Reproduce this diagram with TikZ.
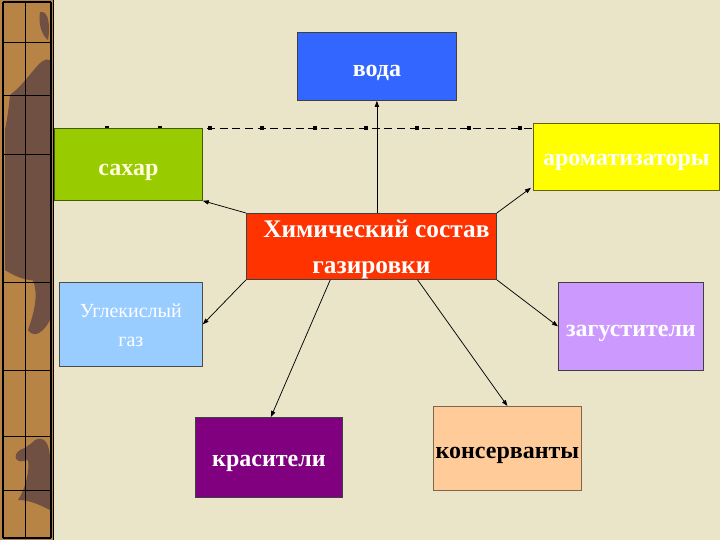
\documentclass[tikz,border=0pt]{standalone}
\usepackage{fontspec}
\setmainfont{Liberation Serif}
\usetikzlibrary{arrows.meta,calc}
\definecolor{bg}{RGB}{234,228,201}
\definecolor{stripbrown}{RGB}{184,132,70}
\definecolor{stripdark}{RGB}{112,80,66}
\definecolor{cvoda}{RGB}{51,102,255}
\definecolor{csahar}{RGB}{153,204,0}
\definecolor{caroma}{RGB}{255,255,0}
\definecolor{ccenter}{RGB}{255,51,0}
\definecolor{cgas}{RGB}{153,204,255}
\definecolor{czag}{RGB}{204,153,255}
\definecolor{ckras}{RGB}{128,0,128}
\definecolor{ckons}{RGB}{255,204,153}
% text lowered so that its baseline sits #1 below the box centre
\newcommand\lowtxt[2]{\raisebox{-#1}[0pt][0pt]{#2}}
\newcommand\lowtab[2]{\raisebox{-#1}[0pt][0pt]{\begin{tabular}[t]{@{}c@{}}#2\end{tabular}}}
\tikzset{
  box/.style={draw=black!75, line width=0.6pt, inner sep=0pt, anchor=north west,
    font=\fontsize{18}{24}\selectfont\bfseries, text=white},
  conn/.style={line width=0.55pt, -{Triangle[length=4.5pt,width=3.2pt]}},
  dashln/.style={line width=0.6pt, dash pattern=on 6pt off 3.5pt},
  mk/.style={fill=black, minimum size=3.4pt, inner sep=0pt, draw=none},
  grid/.style={line width=0.7pt, black}
}
\begin{document}
\begin{tikzpicture}[x=0.75pt,y=-0.75pt]
\useasboundingbox (0,0) rectangle (720,540);
\fill[bg] (0,0) rectangle (720,540);
% left strip
\fill[stripbrown] (0,0) rectangle (53,540);
\fill[stripdark] (10,95) .. controls (30,80) and (40,55) .. (50,60) -- (50,275) .. controls (40,285) and (20,280) .. (5,270) -- (5,130) .. controls (8,115) and (9,105) .. (10,95) -- cycle;
\fill[stripdark] (30,275) .. controls (40,290) and (35,310) .. (28,330) .. controls (35,340) and (45,330) .. (50,320) -- (50,275) -- cycle;
\fill[stripdark] (35,440) .. controls (45,435) and (50,445) .. (50,460) -- (50,510) .. controls (40,505) and (30,500) .. (18,500) .. controls (25,490) and (30,470) .. (28,460) .. controls (15,465) and (12,455) .. (20,450) .. controls (25,448) and (30,445) .. (35,440) -- cycle;
\fill[stripdark] (40,12) .. controls (50,10) and (50,30) .. (48,40) .. controls (42,35) and (38,25) .. (40,12) -- cycle;
\draw[grid, line width=1pt] (3,2) -- (3,538) (51,2) -- (51,538) (3,2) -- (51,2) (3,538) -- (51,538);
\draw[grid, line width=0.8pt] (53.5,0) -- (53.5,540);
\draw[grid] (25.5,2) -- (25.5,538);
\foreach \yy in {42,95,154,282,370,436,490}
  \draw[grid] (3,\yy) -- (51,\yy);
% dashed line
\coordinate (dl) at (55,128);
\coordinate (dr) at (533,128);
\draw[dashln] (dl) -- (dr);
\foreach \xx in {107,160,210,262,315,366,417,469,520}
  \node[mk] at (\xx,128) {};
% boxes
\node[box, fill=cvoda, minimum width=159*0.75pt, minimum height=68*0.75pt] (voda) at (297,32) {\lowtxt{7.5pt}{вода}};
\node[box, fill=csahar, draw=black!55!csahar, text={rgb,255:red,255;green,255;blue,224}, minimum width=148*0.75pt, minimum height=72*0.75pt] (sahar) at (54,128) {\lowtxt{8.25pt}{сахар}};
\node[box, fill=caroma, draw=black!60!caroma, minimum width=186*0.75pt, minimum height=67*0.75pt] (aroma) at (533,123) {\lowtxt{6.4pt}{ароматизаторы}};
\node[box, fill=ccenter, minimum width=250*0.75pt, minimum height=66*0.75pt, font=\fontsize{19}{27}\selectfont\bfseries] (center) at (246,213) {\lowtab{-6.75pt}{\hspace*{7.5pt}Химический состав\\газировки}};
\node[box, fill=cgas, draw=black!70, minimum width=143*0.75pt, minimum height=84*0.75pt, font=\fontsize{15}{22}\selectfont] (gas) at (59,282) {\lowtab{-5.25pt}{Углекислый\\газ}};
\node[box, fill=czag, minimum width=145*0.75pt, minimum height=88*0.75pt] (zag) at (558,282) {\lowtxt{7.5pt}{загустители}};
\node[box, fill=ckras, minimum width=147*0.75pt, minimum height=80*0.75pt] (kras) at (195,417) {\lowtxt{6.75pt}{красители}};
\node[box, fill=ckons, draw=black!50!ckons, text=black, minimum width=148*0.75pt, minimum height=84*0.75pt] (kons) at (433,406) {\lowtxt{7.5pt}{консерванты}};
% connectors
\draw[conn] (voda.south |- center.north) -- (voda.south);
\draw[conn] (center.north west) -- (sahar.south east);
\draw[conn] (center.north east) -- ($(aroma.south west)+(-2,-3)$);
\draw[conn] (center.south west) -- (gas.east);
\draw[conn] ($(center.south west)!0.336!(center.south east)$) -- ($(kras.north)+(2,0)$);
\draw[conn] ($(center.south west)!0.684!(center.south east)$) -- (kons.north);
\draw[conn] (center.south east) -- (zag.west);
\end{tikzpicture}
\end{document}
